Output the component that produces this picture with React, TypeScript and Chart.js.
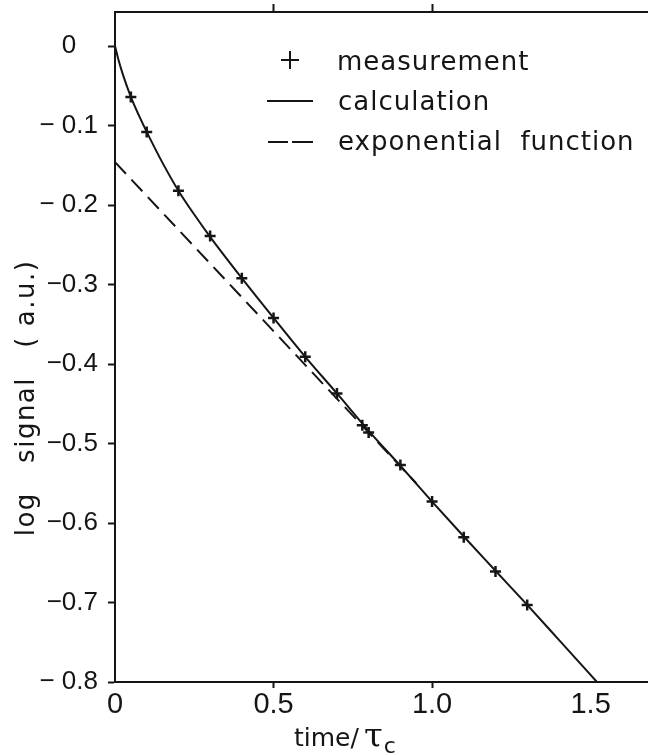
import React, { useEffect, useRef } from 'react';
import { Chart, registerables } from 'chart.js';

Chart.register(...registerables);

// ---- axis ranges & ticks ----
const X_MIN = 0;
const X_MAX = 1.681;
const Y_MIN = -0.8;
const Y_MAX = 0.0428;

const xTickValues = [0, 0.5, 1.0, 1.5];
const xTickLabels = ['0', '0.5', '1.0', '1.5'];
const xTopTickValues = [0.5, 1.0];
const yTickValues = [0, -0.1, -0.2, -0.3, -0.4, -0.5, -0.6, -0.7, -0.8];
const yTickLabels = ['0   ', '\u2212 0.1', '\u2212 0.2', '\u22120.3', '\u22120.4', '\u22120.5', '\u22120.6', '\u22120.7', '\u2212 0.8'];

// ---- series ----
const measurementX = [0.05, 0.1, 0.2, 0.3, 0.4, 0.5, 0.6, 0.7, 0.78, 0.8, 0.9, 1.0, 1.1, 1.2, 1.3];
const measurementY = [-0.064, -0.108, -0.182, -0.239, -0.292, -0.342, -0.391, -0.437, -0.477, -0.486, -0.527, -0.573, -0.618, -0.661, -0.703];

const calculationX = [0, 0.01, 0.025, 0.05, 0.075, 0.1, 0.15, 0.2, 0.25, 0.3, 0.4, 0.5, 0.6, 0.7, 0.8, 0.9, 1.0, 1.1, 1.2, 1.3, 1.4, 1.52];
const calculationY = [0, -0.016, -0.036, -0.064, -0.087, -0.108, -0.147, -0.182, -0.212, -0.24, -0.292, -0.342, -0.391, -0.437, -0.484, -0.528, -0.573, -0.617, -0.66, -0.703, -0.747, -0.8];

const exponentialX = [0, 0.95];
const exponentialY = [-0.146, -0.55];

const legendLabels = ['measurement', 'calculation', 'exponential  function'];
const yTitle = 'log   signal   ( a.u.)';
const xTitleMain = 'time/';
const xTitleSymbol = '\u03C4';
const xTitleSub = 'c';

const INK = '#151515';

const toPoints = (xs: number[], ys: number[]) => xs.map((x, i) => ({ x, y: ys[i] }));

const annotationPlugin = {
  id: 'annotations',
  afterDraw(chart: any) {
    const ctx: CanvasRenderingContext2D = chart.ctx;
    ctx.save();
    ctx.fillStyle = INK;
    ctx.strokeStyle = INK;
    ctx.lineWidth = 2;

    // legend symbols
    ctx.beginPath();
    ctx.moveTo(281, 60);
    ctx.lineTo(299, 60);
    ctx.moveTo(290, 51);
    ctx.lineTo(290, 69);
    ctx.stroke();

    ctx.beginPath();
    ctx.moveTo(267, 101);
    ctx.lineTo(313, 101);
    ctx.stroke();

    ctx.beginPath();
    ctx.moveTo(268, 142);
    ctx.lineTo(288, 142);
    ctx.moveTo(292, 142);
    ctx.lineTo(313, 142);
    ctx.stroke();

    // legend text
    ctx.font = '26px "DejaVu Sans", sans-serif';
    (ctx as any).letterSpacing = '1px';
    ctx.textAlign = 'left';
    ctx.textBaseline = 'alphabetic';
    ctx.fillText(legendLabels[0], 337, 70);
    ctx.fillText(legendLabels[1], 338, 110);
    ctx.fillText(legendLabels[2], 338, 150);

    // y title
    ctx.save();
    ctx.translate(27, 398);
    ctx.rotate(-Math.PI / 2);
    ctx.font = '26px "DejaVu Sans", sans-serif';
    (ctx as any).letterSpacing = '1.5px';
    ctx.textAlign = 'center';
    ctx.textBaseline = 'middle';
    ctx.fillText(yTitle, 0, 0);
    ctx.restore();

    // x title
    (ctx as any).letterSpacing = '0px';
    ctx.textAlign = 'left';
    ctx.textBaseline = 'alphabetic';
    ctx.font = '25px "DejaVu Sans", sans-serif';
    ctx.fillText(xTitleMain, 294, 746);
    const w = ctx.measureText(xTitleMain).width;
    ctx.font = '34px "DejaVu Serif", serif';
    ctx.fillText(xTitleSymbol, 294 + w + 5, 747);
    const w2 = ctx.measureText(xTitleSymbol).width;
    ctx.font = '22px "DejaVu Sans", sans-serif';
    ctx.fillText(xTitleSub, 294 + w + 5 + w2 + 1, 753);

    ctx.restore();
  },
};

export default function App() {
  const canvasRef = useRef<HTMLCanvasElement | null>(null);

  useEffect(() => {
    document.body.style.margin = '0';
    const canvas = canvasRef.current;
    if (!canvas) return;

    const chart = new Chart(canvas, {
      type: 'scatter',
      data: {
        datasets: [
          {
            label: 'measurement',
            data: toPoints(measurementX, measurementY),
            showLine: false,
            pointStyle: 'cross',
            pointRadius: 5.5,
            pointBorderWidth: 2.5,
            borderColor: INK,
            backgroundColor: INK,
          },
          {
            label: 'calculation',
            data: toPoints(calculationX, calculationY),
            showLine: true,
            pointRadius: 0,
            borderWidth: 2,
            borderColor: INK,
            cubicInterpolationMode: 'monotone',
          },
          {
            label: 'exponential function',
            data: toPoints(exponentialX, exponentialY),
            showLine: true,
            pointRadius: 0,
            borderWidth: 2,
            borderColor: INK,
            borderDash: [16, 8],
          },
        ],
      },
      options: {
        animation: false,
        responsive: false,
        maintainAspectRatio: false,
        layout: { padding: 0, autoPadding: false },
        plugins: {
          legend: { display: false },
          tooltip: { enabled: false },
          title: { display: false },
        },
        scales: {
          x: {
            type: 'linear',
            position: 'bottom',
            min: X_MIN,
            max: X_MAX,
            afterBuildTicks: (axis: any) => {
              axis.ticks = xTickValues.map((v) => ({ value: v }));
            },
            afterFit: (axis: any) => {
              axis.height = 73;
              axis.paddingLeft = 0;
              axis.paddingRight = 0;
            },
            grid: {
              drawOnChartArea: false,
              drawTicks: true,
              tickLength: 6,
              tickWidth: 2,
              tickColor: (c: any) =>
                c.tick && (c.tick.value === 0.5 || c.tick.value === 1) ? INK : 'rgba(0,0,0,0)',
            },
            border: { display: true, color: INK, width: 2 },
            ticks: {
              autoSkip: false,
              maxRotation: 0,
              padding: 0,
              color: INK,
              font: { family: '"Liberation Sans Narrow", "Liberation Sans", sans-serif', size: 29 },
              callback: (v: any) => {
                const i = xTickValues.indexOf(Number(v));
                return i >= 0 ? xTickLabels[i] : '';
              },
            },
          },
          xTop: {
            type: 'linear',
            position: 'top',
            min: X_MIN,
            max: X_MAX,
            afterBuildTicks: (axis: any) => {
              axis.ticks = xTopTickValues.map((v) => ({ value: v }));
            },
            afterFit: (axis: any) => {
              axis.height = 12;
              axis.paddingLeft = 0;
              axis.paddingRight = 0;
            },
            grid: {
              drawOnChartArea: false,
              drawTicks: true,
              tickLength: 8,
              tickWidth: 2,
              tickColor: INK,
            },
            border: { display: true, color: INK, width: 2 },
            ticks: { display: false },
          },
          y: {
            type: 'linear',
            position: 'left',
            min: Y_MIN,
            max: Y_MAX,
            afterBuildTicks: (axis: any) => {
              axis.ticks = yTickValues.map((v) => ({ value: v }));
            },
            afterFit: (axis: any) => {
              axis.width = 115;
              axis.paddingTop = 0;
              axis.paddingBottom = 0;
            },
            grid: {
              drawOnChartArea: false,
              drawTicks: true,
              tickLength: 7,
              tickWidth: 2,
              tickColor: INK,
            },
            border: { display: true, color: INK, width: 2 },
            ticks: {
              autoSkip: false,
              padding: 10,
              color: INK,
              font: { family: '"Liberation Sans", sans-serif', size: 26 },
              callback: (v: any) => {
                const i = yTickValues.findIndex((t) => Math.abs(t - Number(v)) < 1e-9);
                return i >= 0 ? yTickLabels[i] : '';
              },
            },
          },
        },
      },
      plugins: [annotationPlugin],
    } as any);

    return () => {
      chart.destroy();
    };
  }, []);

  return (
    <div style={{ width: 648, height: 755, background: '#fff' }}>
      <canvas ref={canvasRef} width={648} height={755} style={{ display: 'block' }} />
    </div>
  );
}
